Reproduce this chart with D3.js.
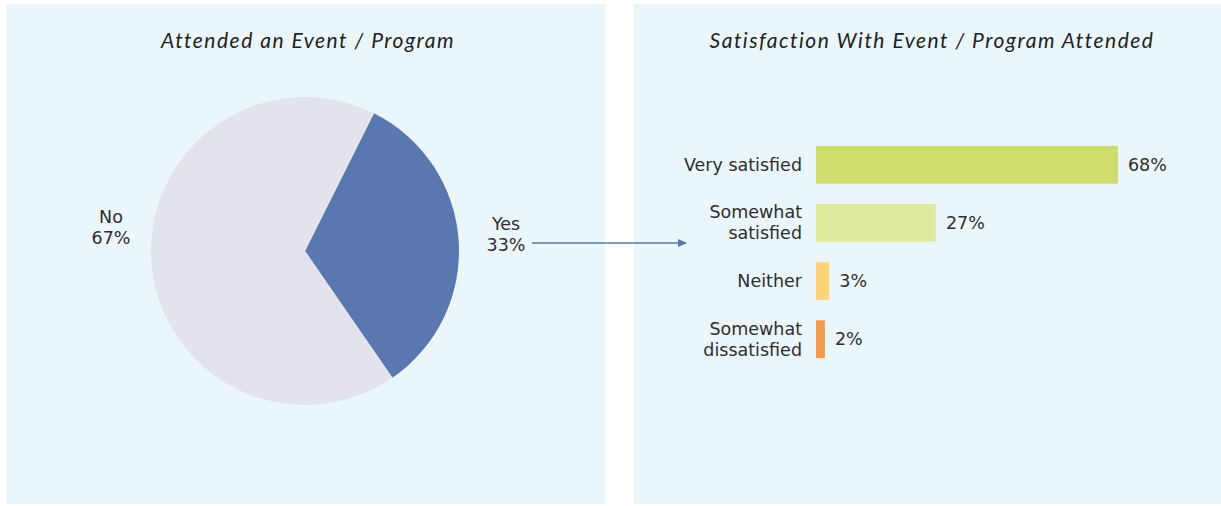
<!DOCTYPE html>
<html>
<head>
<meta charset="utf-8">
<script src="https://cdn.jsdelivr.net/npm/d3@7"></script>
<style>
  body { margin: 0; background: #fff; }
  svg text { font-family: "DejaVu Sans", sans-serif; fill: #2e2e2e; }
  .title { font-family: "Lato", "DejaVu Sans", sans-serif; font-style: italic; font-size: 21px; letter-spacing: 1.5px; fill: #222; }
</style>
</head>
<body>
<svg id="chart" width="1221" height="506"></svg>
<script>
// pie data
const pieLabels = ['Yes', 'No'];
const pieValues = [33, 67];
const pieColors = ['#5b77b0', '#e3e3ee'];

// bar data
const barLabels = [['Very satisfied'], ['Somewhat', 'satisfied'], ['Neither'], ['Somewhat', 'dissatisfied']];
const barValues = [68, 27, 3, 2];
const barColors = ['#cfdc6e', '#dfe99c', '#fdd47a', '#f49a4f'];

const svg = d3.select('#chart');

// panels
svg.append('rect').attr('x', 6).attr('y', 4).attr('width', 599).attr('height', 500).attr('fill', '#ebf6fb');
svg.append('rect').attr('x', 634).attr('y', 4).attr('width', 587).attr('height', 500).attr('fill', '#ebf6fb');

svg.append('text').attr('class', 'title').attr('x', 308).attr('y', 48)
  .attr('text-anchor', 'middle').text('Attended an Event / Program');
svg.append('text').attr('class', 'title').attr('x', 932).attr('y', 48)
  .attr('text-anchor', 'middle').text('Satisfaction With Event / Program Attended');

// ---- pie
const cx = 305, cy = 251, r = 154;
const startA = 26.6 * Math.PI / 180;
const pie = d3.pie().sort(null).startAngle(startA).endAngle(startA + 2 * Math.PI)(pieValues);
const arc = d3.arc().innerRadius(0).outerRadius(r);

const pg = svg.append('g').attr('transform', `translate(${cx},${cy})`);
pg.selectAll('path').data(pie).enter().append('path')
  .attr('d', arc)
  .attr('fill', (d, i) => pieColors[i]);

const fs = 17.5, lh = 21;
const pieLabelPos = [[506, 230], [111, 223]];
pieLabels.forEach((l, i) => {
  const t = svg.append('text').attr('x', pieLabelPos[i][0]).attr('y', pieLabelPos[i][1])
    .attr('text-anchor', 'middle').style('font-size', fs + 'px');
  t.append('tspan').attr('x', pieLabelPos[i][0]).text(l);
  t.append('tspan').attr('x', pieLabelPos[i][0]).attr('dy', lh).text(pieValues[i] + '%');
});

// arrow
svg.append('defs').append('marker').attr('id', 'arr')
  .attr('viewBox', '0 0 10 10').attr('refX', 8).attr('refY', 5)
  .attr('markerWidth', 7).attr('markerHeight', 7).attr('orient', 'auto')
  .append('path').attr('d', 'M0,1 L9,5 L0,9 Z').attr('fill', '#5b77b0');
svg.append('line').attr('x1', 532).attr('y1', 243).attr('x2', 686).attr('y2', 243)
  .attr('stroke', '#5b77b0').attr('stroke-width', 1.5).attr('marker-end', 'url(#arr)');

// ---- bars
const x = d3.scaleLinear().domain([0, 100]).range([816, 816 + 444]);
const y = d3.scaleBand().domain(d3.range(barValues.length)).range([136, 368]).paddingInner(0.35).paddingOuter(0.17);

const bg = svg.append('g');
bg.selectAll('rect').data(barValues).enter().append('rect')
  .attr('x', x(0))
  .attr('y', (d, i) => y(i))
  .attr('width', d => x(d) - x(0))
  .attr('height', y.bandwidth())
  .attr('fill', (d, i) => barColors[i]);

bg.selectAll('text.val').data(barValues).enter().append('text')
  .attr('class', 'val')
  .attr('x', d => x(d) + 10)
  .attr('y', (d, i) => y(i) + y.bandwidth() / 2 + 6)
  .style('font-size', fs + 'px')
  .text(d => d + '%');

barLabels.forEach((lines, i) => {
  const mid = y(i) + y.bandwidth() / 2;
  const t = bg.append('text').attr('text-anchor', 'end').style('font-size', fs + 'px');
  lines.forEach((ln, j) => {
    t.append('tspan').attr('x', 802)
      .attr('y', mid + 6 + (j - (lines.length - 1) / 2) * lh)
      .text(ln);
  });
});
</script>
</body>
</html>
